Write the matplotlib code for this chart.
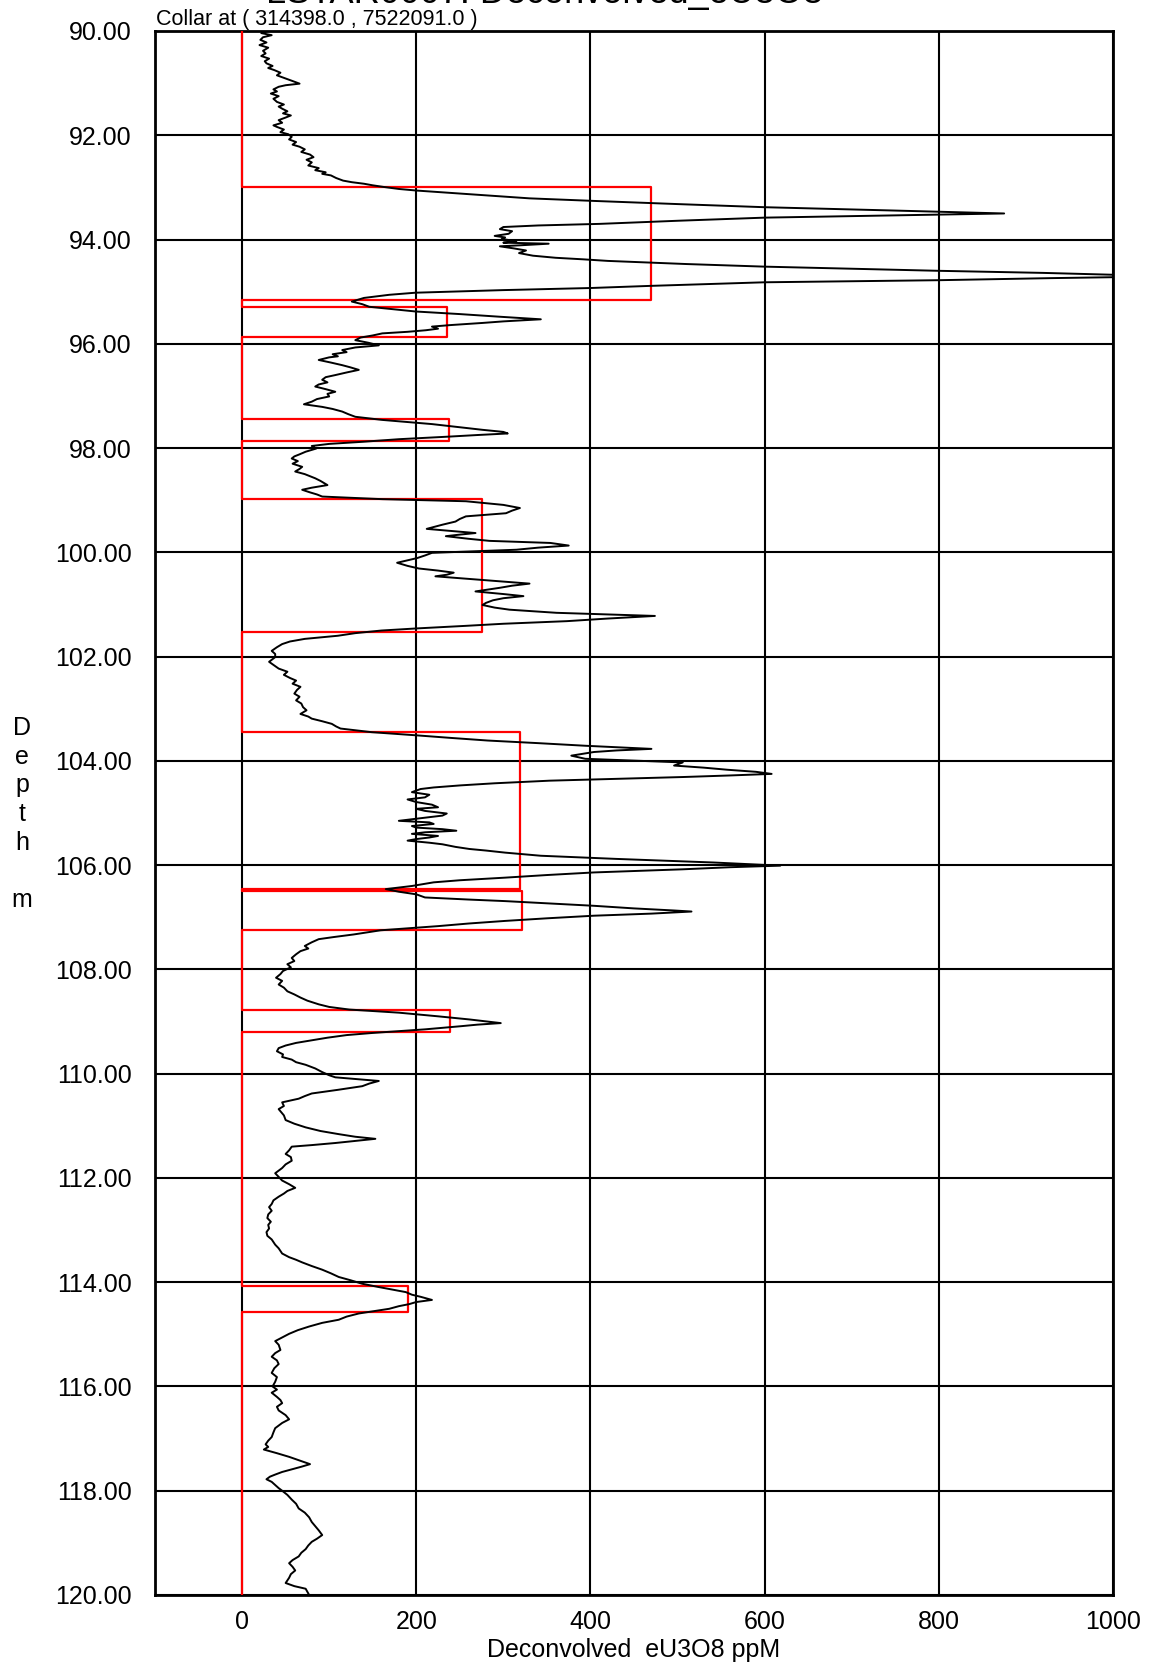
import numpy as np
import matplotlib
matplotlib.use("Agg")
import matplotlib.pyplot as plt

# depth (m), deconvolved eU3O8 (ppm)
trace = [
    (90.00, 30), (90.04, 22), (90.08, 34), (90.12, 24), (90.17, 21), (90.22, 28), (90.27, 20),
    (90.32, 30), (90.38, 24), (90.43, 27), (90.48, 22), (90.53, 31), (90.58, 26), (90.62, 28),
    (90.67, 35), (90.71, 30), (90.75, 37), (90.80, 44), (90.85, 40), (90.91, 50), (90.96, 58),
    (91.01, 66), (91.04, 50), (91.07, 42), (91.12, 36), (91.16, 40), (91.20, 33), (91.25, 42),
    (91.30, 36), (91.36, 40), (91.41, 48), (91.45, 42), (91.49, 46), (91.54, 52), (91.58, 47),
    (91.62, 56), (91.66, 50), (91.71, 42), (91.76, 46), (91.81, 36), (91.84, 40), (91.89, 48),
    (91.94, 44), (91.98, 53), (92.03, 57), (92.08, 54), (92.13, 62), (92.18, 58), (92.22, 66),
    (92.27, 72), (92.32, 68), (92.37, 78), (92.42, 82), (92.47, 74), (92.52, 80), (92.58, 76),
    (92.63, 88), (92.67, 84), (92.71, 96), (92.74, 92), (92.77, 102), (92.82, 108), (92.87, 116),
    (92.90, 126), (92.93, 140), (92.96, 150), (92.99, 162), (93.03, 180), (93.06, 200),
    (93.10, 235), (93.15, 278), (93.21, 330), (93.26, 405), (93.32, 500), (93.38, 600),
    (93.44, 740), (93.50, 875), (93.54, 740), (93.58, 600), (93.64, 500), (93.70, 410),
    (93.73, 340), (93.76, 300), (93.80, 296), (93.84, 310), (93.89, 306), (93.93, 290),
    (93.96, 302), (93.99, 298), (94.03, 315), (94.06, 300), (94.08, 352), (94.11, 320),
    (94.13, 296), (94.17, 312), (94.21, 326), (94.26, 318), (94.31, 334), (94.35, 360),
    (94.38, 392), (94.41, 420), (94.47, 510), (94.52, 600), (94.56, 700), (94.60, 800),
    (94.64, 920), (94.68, 1010), (94.72, 1010), (94.74, 930), (94.78, 800), (94.82, 600),
    (94.89, 467), (94.93, 400), (94.97, 300), (95.02, 199), (95.06, 169), (95.12, 140),
    (95.19, 126), (95.24, 138), (95.29, 146), (95.34, 175), (95.38, 199), (95.43, 250),
    (95.48, 295), (95.53, 343), (95.57, 300), (95.60, 276), (95.64, 240), (95.67, 218),
    (95.71, 225), (95.74, 211), (95.77, 190), (95.80, 161), (95.84, 150), (95.88, 136),
    (95.93, 130), (95.98, 145), (96.03, 157), (96.07, 130), (96.12, 115), (96.16, 120),
    (96.20, 104), (96.24, 110), (96.26, 100), (96.31, 88), (96.36, 102), (96.41, 115),
    (96.45, 124), (96.50, 134), (96.55, 120), (96.60, 107), (96.64, 96), (96.69, 92),
    (96.74, 98), (96.78, 88), (96.82, 84), (96.87, 96), (96.92, 107), (96.96, 98),
    (97.01, 100), (97.06, 86), (97.11, 80), (97.16, 71), (97.21, 92), (97.25, 104),
    (97.30, 115), (97.35, 122), (97.40, 130), (97.46, 161), (97.50, 190), (97.54, 218),
    (97.60, 250), (97.65, 276), (97.69, 300), (97.72, 305), (97.75, 270), (97.78, 238),
    (97.83, 180), (97.88, 138), (97.92, 100), (97.96, 80), (98.01, 85), (98.07, 73),
    (98.12, 66), (98.16, 60), (98.20, 57), (98.25, 64), (98.30, 58), (98.36, 69), (98.40, 66),
    (98.45, 61), (98.50, 72), (98.54, 78), (98.58, 84), (98.63, 90), (98.67, 94), (98.71, 98),
    (98.76, 80), (98.80, 69), (98.85, 78), (98.89, 86), (98.93, 92), (98.98, 161),
    (99.02, 257), (99.09, 300), (99.15, 319), (99.20, 310), (99.25, 303), (99.31, 257),
    (99.36, 250), (99.41, 245), (99.47, 230), (99.55, 212), (99.59, 240), (99.63, 268),
    (99.66, 250), (99.69, 234), (99.74, 260), (99.78, 284), (99.82, 354), (99.87, 375),
    (99.91, 340), (99.95, 315), (100.01, 218), (100.06, 210), (100.11, 201), (100.20, 178),
    (100.26, 190), (100.31, 203), (100.35, 225), (100.39, 243), (100.43, 235), (100.46, 222),
    (100.51, 260), (100.55, 292), (100.60, 330), (100.64, 310), (100.68, 296), (100.75, 268),
    (100.80, 300), (100.84, 323), (100.88, 300), (100.92, 288), (100.97, 280), (101.01, 276),
    (101.06, 290), (101.10, 307), (101.16, 361), (101.22, 474), (101.27, 420), (101.32, 373),
    (101.37, 300), (101.41, 257), (101.46, 200), (101.50, 160), (101.55, 130), (101.60, 110),
    (101.66, 72), (101.71, 55), (101.76, 46), (101.82, 40), (101.89, 34), (101.95, 38),
    (102.01, 38), (102.06, 34), (102.10, 31), (102.16, 36), (102.23, 42), (102.29, 52),
    (102.35, 48), (102.41, 55), (102.46, 62), (102.52, 58), (102.58, 67), (102.64, 63),
    (102.71, 60), (102.77, 66), (102.84, 62), (102.90, 68), (102.97, 70), (103.03, 74),
    (103.10, 67), (103.15, 76), (103.19, 80), (103.24, 92), (103.29, 103), (103.34, 108),
    (103.38, 113), (103.45, 149), (103.51, 200), (103.56, 240), (103.61, 282), (103.66, 340),
    (103.71, 394), (103.77, 470), (103.80, 430), (103.83, 404), (103.90, 378), (103.96, 394),
    (104.03, 506), (104.09, 496), (104.13, 530), (104.17, 557), (104.21, 590), (104.25, 608),
    (104.28, 560), (104.31, 506), (104.35, 420), (104.38, 353), (104.43, 290), (104.47, 251),
    (104.51, 220), (104.54, 205), (104.60, 195), (104.65, 215), (104.70, 210), (104.74, 190),
    (104.79, 200), (104.84, 218), (104.89, 225), (104.92, 200), (104.96, 210), (105.01, 235),
    (105.05, 230), (105.10, 205), (105.15, 180), (105.18, 215), (105.21, 220), (105.25, 195),
    (105.28, 200), (105.31, 230), (105.34, 246), (105.37, 210), (105.40, 195), (105.44, 225),
    (105.47, 215), (105.50, 200), (105.53, 190), (105.57, 215), (105.60, 230), (105.65, 245),
    (105.69, 261), (105.72, 280), (105.76, 302), (105.82, 343), (105.88, 429), (105.95, 542),
    (106.01, 618), (106.04, 560), (106.08, 506), (106.14, 404), (106.19, 350), (106.24, 302),
    (106.29, 250), (106.33, 220), (106.40, 195), (106.46, 165), (106.51, 180), (106.56, 200),
    (106.62, 210), (106.66, 260), (106.69, 302), (106.74, 360), (106.78, 404), (106.83, 450),
    (106.87, 496), (106.89, 516), (106.93, 470), (106.97, 404), (107.02, 350), (107.07, 302),
    (107.12, 260), (107.17, 225), (107.25, 159), (107.33, 128), (107.38, 105), (107.42, 88),
    (107.48, 80), (107.55, 72), (107.60, 76), (107.65, 67), (107.71, 62), (107.78, 57),
    (107.84, 60), (107.90, 52), (107.96, 56), (108.03, 47), (108.09, 44), (108.16, 39),
    (108.22, 46), (108.29, 42), (108.35, 48), (108.42, 52), (108.48, 60), (108.54, 67),
    (108.60, 75), (108.67, 88), (108.72, 100), (108.77, 123), (108.83, 180), (108.90, 225),
    (108.96, 261), (109.03, 297), (109.06, 270), (109.09, 251), (109.15, 210), (109.22, 149),
    (109.26, 120), (109.31, 98), (109.36, 80), (109.41, 62), (109.46, 50), (109.51, 42),
    (109.57, 40), (109.63, 47), (109.68, 46), (109.73, 57), (109.78, 62), (109.83, 73),
    (109.90, 84), (109.97, 92), (110.03, 100), (110.07, 107), (110.14, 157), (110.19, 146),
    (110.24, 138), (110.31, 110), (110.38, 80), (110.43, 72), (110.48, 65), (110.55, 46),
    (110.62, 48), (110.68, 42), (110.72, 44), (110.80, 48), (110.89, 50), (110.96, 60),
    (111.03, 73), (111.10, 90), (111.16, 111), (111.21, 130), (111.25, 153), (111.29, 130),
    (111.33, 107), (111.37, 80), (111.40, 57), (111.47, 54), (111.54, 50), (111.60, 56),
    (111.67, 57), (111.74, 50), (111.81, 46), (111.86, 42), (111.91, 38), (111.98, 42),
    (112.05, 46), (112.12, 54), (112.19, 61), (112.25, 52), (112.30, 48), (112.36, 42),
    (112.43, 36), (112.50, 34), (112.56, 31), (112.63, 34), (112.70, 30), (112.77, 29),
    (112.84, 33), (112.90, 30), (112.97, 31), (113.04, 28), (113.11, 29), (113.18, 34),
    (113.23, 36), (113.28, 38), (113.35, 42), (113.40, 44), (113.45, 46), (113.52, 54),
    (113.57, 62), (113.62, 69), (113.69, 80), (113.76, 92), (113.83, 102), (113.90, 111),
    (113.96, 124), (114.03, 138), (114.09, 156), (114.14, 172), (114.19, 188), (114.24, 195),
    (114.28, 205), (114.34, 218), (114.38, 200), (114.42, 192), (114.46, 180), (114.51, 169),
    (114.56, 150), (114.60, 134), (114.66, 120), (114.72, 111), (114.78, 92), (114.85, 77),
    (114.92, 64), (114.99, 54), (115.06, 46), (115.13, 38), (115.20, 42), (115.30, 44),
    (115.36, 38), (115.43, 34), (115.50, 40), (115.57, 42), (115.65, 37), (115.74, 34),
    (115.82, 40), (115.91, 38), (116.00, 35), (116.06, 40), (116.12, 34), (116.20, 40),
    (116.26, 44), (116.32, 46), (116.39, 40), (116.46, 42), (116.55, 50), (116.63, 54),
    (116.70, 46), (116.80, 38), (116.88, 36), (116.97, 34), (117.04, 30), (117.11, 27),
    (117.16, 30), (117.21, 25), (117.28, 40), (117.35, 54), (117.42, 66), (117.49, 78),
    (117.54, 68), (117.59, 57), (117.64, 46), (117.69, 38), (117.73, 32), (117.78, 28),
    (117.83, 34), (117.89, 38), (117.95, 42), (118.00, 46), (118.08, 52), (118.17, 57),
    (118.25, 62), (118.34, 65), (118.42, 72), (118.51, 77), (118.60, 80), (118.68, 84),
    (118.76, 88), (118.85, 92), (118.92, 86), (118.98, 80), (119.05, 76), (119.12, 73),
    (119.19, 68), (119.26, 65), (119.33, 58), (119.39, 54), (119.46, 58), (119.53, 61),
    (119.60, 56), (119.67, 54), (119.72, 52), (119.77, 50), (119.83, 60), (119.88, 73),
    (119.94, 75), (120.00, 77),
]

# assay intervals (red boxes)
assay_from = [90.00, 93.00, 95.16, 95.29, 95.86, 97.45, 97.87, 98.98, 101.53, 103.45,
              106.45, 106.50, 107.25, 108.77, 109.21, 114.08, 114.57]
assay_to = assay_from[1:] + [120.00]
assay_ppm = [0, 470, 0, 235, 0, 238, 0, 276, 0, 319, 0, 321, 0, 239, 0, 190, 0]

depth_ticks = np.arange(90, 120.01, 2)
ppm_ticks = [0, 200, 400, 600, 800, 1000]

plt.rcParams['font.family'] = ['Liberation Sans', 'DejaVu Sans']

fig = plt.figure(figsize=(11.5, 16.63), dpi=100)
W, H = 1150, 1663
ax = fig.add_axes([155 / W, 1 - 1595 / H, (1113 - 155) / W, (1595 - 31) / H])

depth = [d for d, v in trace]
ppm = [v for d, v in trace]
ax.plot(ppm, depth, color='black', lw=1.4, zorder=4)

# red step: vertical at each value, horizontal back to the next one
sx, sy = [], []
for top, bot, v in zip(assay_from, assay_to, assay_ppm):
    sx += [v, v]
    sy += [top, bot]
ax.plot(sx, sy, color='red', lw=1.6, zorder=3)

ax.set_xlim(-100, 1000)
ax.set_ylim(120, 90)
ax.set_xticks(ppm_ticks)
ax.set_xticklabels([str(t) for t in ppm_ticks])
ax.set_yticks(depth_ticks)
ax.set_yticklabels([f'{t:.2f}' for t in depth_ticks])
ax.grid(True, color='black', lw=1.5, zorder=1)
ax.set_axisbelow(True)
ax.tick_params(axis='both', length=0, labelsize=18)
ax.tick_params(axis='y', pad=17)
ax.tick_params(axis='x', pad=11)
for s in ax.spines.values():
    s.set_linewidth(2)

fig.text(634 / W, 1 - 1650 / H, 'Deconvolved  eU3O8 ppM', ha='center', va='center', fontsize=18)
fig.text(22 / W, 1 - 814 / H, 'D\ne\np\nt\nh\n\nm', ha='center', va='center',
         multialignment='center', linespacing=1.25, fontsize=18)
fig.text(156 / W, 1 - 20 / H, 'Collar at ( 314398.0 , 7522091.0 )', ha='left', va='center', fontsize=15.5)
# title sits above the page edge, only its lower part shows
fig.text(545 / W, 1 - 3 / H, 'LSTAR0007: Deconvolved_eU3O8', ha='center', va='baseline', fontsize=26)

fig.savefig('out.png', dpi=100)
